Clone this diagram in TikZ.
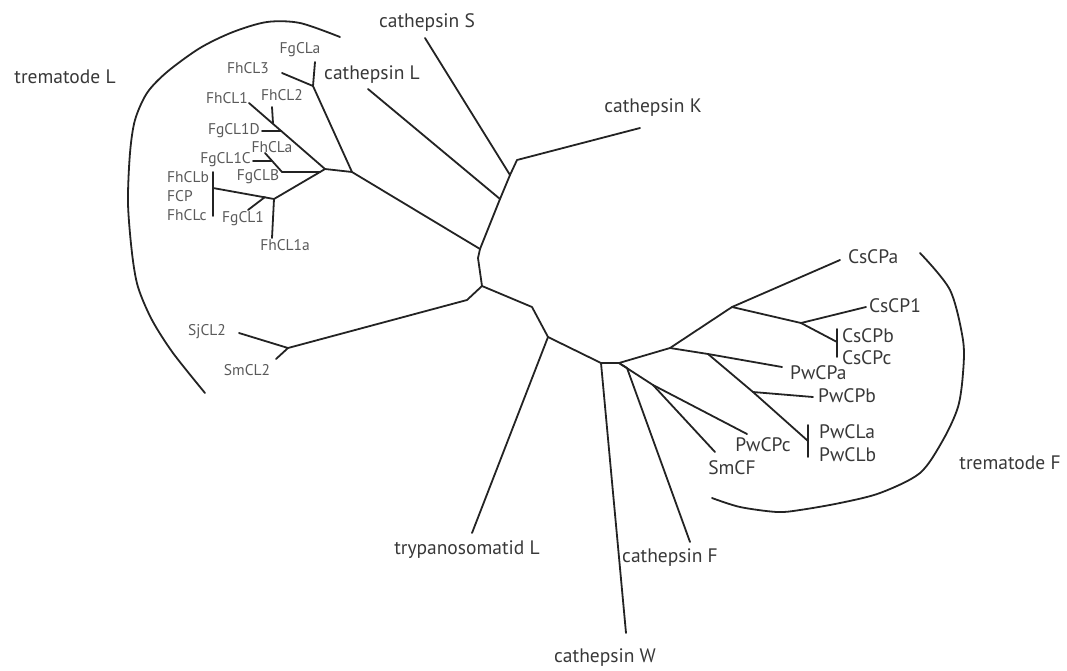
\documentclass[tikz,border=0pt]{standalone}
\usepackage{fontspec}
\setmainfont{PT Sans}
\usepackage{tikz}
\usetikzlibrary{positioning}
\definecolor{branchgray}{HTML}{232323}
\definecolor{labelgray}{HTML}{383838}
\definecolor{leafgray}{HTML}{5a5a5a}
\tikzset{
  branch/.style={draw=branchgray, line width=1.8pt, line cap=round, line join=round},
  cladearc/.style={draw=branchgray, line width=1.8pt, line cap=round},
  grouplabel/.style={text=labelgray, font=\fontsize{19.5}{19.5}\selectfont, inner sep=0pt},
  leaflabel/.style={text=labelgray, font=\fontsize{19.5}{19.5}\selectfont, inner sep=0pt},
  tinylabel/.style={text=leafgray, font=\fontsize{15.5}{15.5}\selectfont, inner sep=0pt}
}
\begin{document}
\begin{tikzpicture}[x=1pt, y=-1pt]
  \useasboundingbox (0,0) rectangle (1067,670);

  \coordinate (jK)   at (517,160);
  \coordinate (jS)   at (510,175);
  \coordinate (jL)   at (500,199);
  \coordinate (jTL)  at (480,249);
  \coordinate (kTL)  at (478,258);
  \coordinate (root) at (482,286);
  \coordinate (kSj)  at (467,300);
  \coordinate (jSj)  at (288,348);
  \coordinate (kTr)  at (532,307);
  \coordinate (jTr)  at (548,337);
  \coordinate (jW)   at (601,363);
  \coordinate (jF)   at (619,363);
  \coordinate (kF)   at (627,368);
  \coordinate (jPc)  at (653,385);
  \coordinate (jCs0) at (670,348);
  \coordinate (jCs)  at (732,307);
  \coordinate (jCs1) at (801,323);
  \coordinate (jCsb) at (837,342);
  \coordinate (jPw)  at (708,354);
  \coordinate (jPw2) at (753,392);
  \coordinate (jPwl) at (808,441);

  \coordinate (eK)   at (640,128);
  \coordinate (eS)   at (425,38);
  \coordinate (eL)   at (368,89);
  \coordinate (eTry) at (472,533);
  \coordinate (eW)   at (626,633);
  \coordinate (eF)   at (690,542);
  \coordinate (ePwc) at (747,434);
  \coordinate (eSmF) at (715,452);
  \coordinate (eCsa) at (840,260);
  \coordinate (eCs1) at (866,307);
  \coordinate (ePwa) at (782,367);
  \coordinate (ePwb) at (813,397);
  \coordinate (eSj)  at (239,333);
  \coordinate (eSm)  at (276,359);

  \coordinate (t1)  at (352,172);
  \coordinate (t7)  at (313,86);
  \coordinate (eFgCLa) at (315,62);
  \coordinate (eFhCL3) at (282,73);
  \coordinate (t2)  at (325,169);
  \coordinate (eFhCL1) at (249,103);
  \coordinate (p2)  at (273,123);
  \coordinate (eFhCL2) at (272,107);
  \coordinate (p3)  at (281,131);
  \coordinate (eFgCL1D) at (262,131);
  \coordinate (t5)  at (320,172);
  \coordinate (t6)  at (282,172);
  \coordinate (eFhCLa) at (265,153);
  \coordinate (p6)  at (272,161);
  \coordinate (eFgCL1C) at (253,161);
  \coordinate (t4)  at (274,199);
  \coordinate (p4)  at (265,197);
  \coordinate (eFgCL1) at (248,210);
  \coordinate (eFhCL1a) at (272,238);
  \coordinate (bFCP) at (213,188);
  \coordinate (bTop) at (213,172);
  \coordinate (bBot) at (213,216);

  \draw[branch] (eK) -- (jK) -- (jS) -- (jL) -- (jTL) -- (kTL) -- (root);
  \draw[branch] (eS) -- (jS);
  \draw[branch] (eL) -- (jL);
  \draw[branch] (root) -- (kSj) -- (jSj);
  \draw[branch] (eSj) -- (jSj) -- (eSm);
  \draw[branch] (root) -- (kTr) -- (jTr) -- (eTry);
  \draw[branch] (jTr) -- (jW) -- (eW);
  \draw[branch] (jW) -- (jF) -- (kF) -- (eF);
  \draw[branch] (jF) -- (jPc) -- (ePwc);
  \draw[branch] (jPc) -- (eSmF);
  \draw[branch] (jF) -- (jCs0) -- (jCs) -- (eCsa);
  \draw[branch] (jCs) -- (jCs1) -- (eCs1);
  \draw[branch] (jCs1) -- (jCsb);
  \draw[branch] (837,329) -- (837,357);
  \draw[branch] (jCs0) -- (jPw) -- (ePwa);
  \draw[branch] (jPw) -- (jPw2) -- (ePwb);
  \draw[branch] (jPw2) -- (jPwl);
  \draw[branch] (808,425) -- (808,457);

  \draw[branch] (jTL) -- (t1) -- (t7) -- (eFgCLa);
  \draw[branch] (t7) -- (eFhCL3);
  \draw[branch] (t1) -- (t2) -- (eFhCL1);
  \draw[branch] (p2) -- (eFhCL2);
  \draw[branch] (p3) -- (eFgCL1D);
  \draw[branch] (t2) -- (t5) -- (t4);
  \draw[branch] (t5) -- (t6) -- (eFhCLa);
  \draw[branch] (p6) -- (eFgCL1C);
  \draw[branch] (t4) -- (bFCP);
  \draw[branch] (bTop) -- (bBot);
  \draw[branch] (p4) -- (eFgCL1);
  \draw[branch] (t4) -- (eFhCL1a);

  \draw[cladearc] plot[smooth] coordinates {(340,37) (300,23) (267,22) (233,32) (200,48) (167,72) (147,93) (135,120) (130,153) (128,203) (132,253) (138,287) (152,320) (173,353) (205,393)};
  \draw[cladearc] plot[smooth] coordinates {(920,253) (950,290) (963,340) (963,373) (958,407) (943,440) (920,473) (880,493) (840,503) (800,510) (777,512) (740,507) (712,498)};

  \node[grouplabel] (lblTL) at (65,77) {trematode L};
  \node[grouplabel] (lblTF) at (1010,463) {trematode F};
  \node[grouplabel] (lblS)  at (427,23) {cathepsin S};
  \node[grouplabel] (lblL)  at (372,75) {cathepsin L};
  \node[grouplabel] (lblK)  at (653,108) {cathepsin K};
  \node[grouplabel] (lblTry) at (467,550) {trypanosomatid L};
  \node[grouplabel] (lblW)  at (605,658) {cathepsin W};
  \node[grouplabel] (lblF)  at (670,558) {cathepsin F};

  \node[leaflabel, anchor=west] (lblCsa) at (848,257) {CsCPa};
  \node[leaflabel, anchor=west] (lblCs1) at (869,306) {CsCP1};
  \node[leaflabel, anchor=west] (lblCsb) at (842,336) {CsCPb};
  \node[leaflabel, anchor=west] (lblCsc) at (842,358) {CsCPc};
  \node[leaflabel, anchor=west] (lblPwa) at (790,373) {PwCPa};
  \node[leaflabel, anchor=west] (lblPwb) at (818,396) {PwCPb};
  \node[leaflabel, anchor=west] (lblPla) at (819,432) {PwCLa};
  \node[leaflabel, anchor=west] (lblPlb) at (819,455) {PwCLb};
  \node[leaflabel] (lblPwc) at (763,445) {PwCPc};
  \node[leaflabel] (lblSmF) at (732,468) {SmCF};

  \node[tinylabel] (lblFgCLa) at (300,50) {FgCLa};
  \node[tinylabel] (lblFhCL3) at (248,68) {FhCL3};
  \node[tinylabel] (lblFhCL1) at (227,98) {FhCL1};
  \node[tinylabel] (lblFhCL2) at (282,95) {FhCL2};
  \node[tinylabel, anchor=east] (lblFgCL1D) at (260,131) {FgCL1D};
  \node[tinylabel] (lblFhCLa) at (272,147) {FhCLa};
  \node[tinylabel, anchor=east] (lblFgCL1C) at (251,160) {FgCL1C};
  \node[tinylabel] (lblFgCLB) at (258,177) {FgCLB};
  \node[tinylabel, anchor=west] (lblFhCLb) at (167,177) {FhCLb};
  \node[tinylabel, anchor=west] (lblFCP)   at (167,196) {FCP};
  \node[tinylabel, anchor=west] (lblFhCLc) at (167,215) {FhCLc};
  \node[tinylabel] (lblFgCL1) at (243,219) {FgCL1};
  \node[tinylabel] (lblFhCL1a) at (285,245) {FhCL1a};
  \node[tinylabel] (lblSjCL2) at (207,332) {SjCL2};
  \node[tinylabel] (lblSmCL2) at (247,370) {SmCL2};
\end{tikzpicture}
\end{document}
